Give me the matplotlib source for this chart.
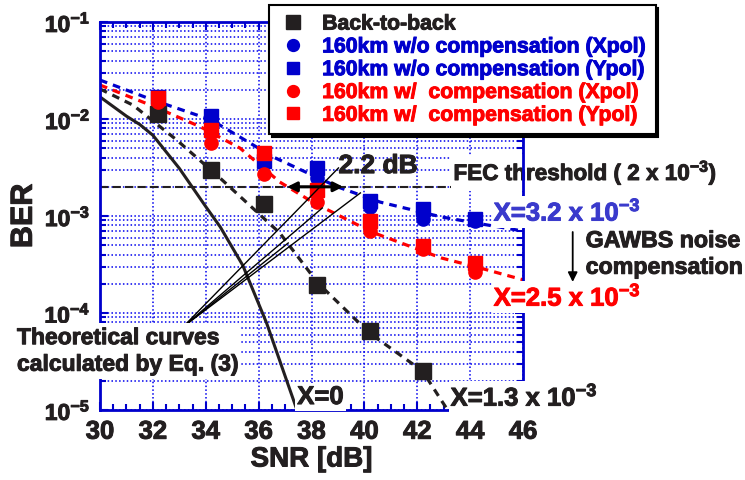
import matplotlib.pyplot as plt
import matplotlib.patheffects as pe
from matplotlib.text import Text
from matplotlib.lines import Line2D
from matplotlib.ticker import LogLocator, MultipleLocator, NullFormatter

plt.rcParams['font.family'] = 'Liberation Sans'
plt.rcParams['font.weight'] = 'bold'
plt.rcParams['axes.labelweight'] = 'bold'
plt.rcParams['mathtext.fontset'] = 'custom'
plt.rcParams['mathtext.rm'] = 'Liberation Sans:bold'
plt.rcParams['mathtext.bf'] = 'Liberation Sans:bold'
plt.rcParams['mathtext.it'] = 'Liberation Sans:bold'
plt.rcParams['mathtext.default'] = 'rm'

BLACK = '#231f20'
BLUE = '#0000cc'
RED = '#ff0000'
GRID = '#0000ee'

# measured points
snr = [32.2, 34.2, 36.2, 38.2, 40.2, 42.2, 44.2]
btb_snr = [32.2, 34.2, 36.2, 38.2, 40.2, 42.2]
btb_ber = [1.13e-2, 2.98e-3, 1.33e-3, 1.95e-4, 6.5e-5, 2.5e-5]
wo_x = [1.57e-2, 8.7e-3, 3.5e-3, 2.47e-3, 1.24e-3, 9.3e-4, 8.9e-4]
wo_y = [1.68e-2, 1.07e-2, 3.69e-3, 3.13e-3, 1.43e-3, 1.18e-3, 9.3e-4]
w_x = [1.5e-2, 5.66e-3, 2.71e-3, 1.39e-3, 7.0e-4, 4.57e-4, 2.65e-4]
w_y = [1.64e-2, 7.7e-3, 4.46e-3, 1.85e-3, 8.9e-4, 4.9e-4, 3.27e-4]

# theoretical curves
blue_th_snr = [30, 32, 34.2, 35.3, 36.55, 39.0, 40.6, 42.9, 44.4, 46]
blue_th_ber = [2.52e-2, 1.57e-2, 9.8e-3, 6.5e-3, 4.06e-3, 1.99e-3, 1.39e-3, 9.8e-4, 8.3e-4, 7.0e-4]
red_th_snr = [30, 32, 33.8, 35.3, 36.8, 38.1, 40.3, 42.9, 44.4, 46]
red_th_ber = [2.24e-2, 1.36e-2, 8.3e-3, 5.0e-3, 2.24e-3, 1.36e-3, 6.8e-4, 3.7e-4, 2.9e-4, 2.2e-4]
black_th_snr = [30, 31.25, 32.9, 34.5, 36.8, 38.24, 40.2, 42.2, 42.9, 43.15]
black_th_ber = [2.04e-2, 1.39e-2, 6.08e-3, 2.52e-3, 6.68e-4, 2.04e-4, 6.2e-5, 2.52e-5, 1.27e-5, 1.0e-5]
zero_th_snr = [30, 31.0, 31.5, 32.0, 33.0, 34.0, 34.55, 35.4, 36.3, 37.45]
zero_th_ber = [1.69e-2, 1.07e-2, 8.8e-3, 6.8e-3, 3.1e-3, 1.25e-3, 7.7e-4, 3.1e-4, 7.9e-5, 1.0e-5]

fec = 2e-3
gap_start, gap_end = 37.08, 39.2

# pointer lines from the "Theoretical curves" note
note_anchor = (33.14, 7.18e-5)
note_targets = [(39.02, 3.13e-3), (39.85, 1.73e-3), (38.41, 1.21e-3), (37.12, 5.27e-4)]

x_ticks = [30, 32, 34, 36, 38, 40, 42, 44, 46]
y_ticks = [1e-5, 1e-4, 1e-3, 1e-2, 1e-1]
y_tick_labels = [r'$10^{-5}$', r'$10^{-4}$', r'$10^{-3}$', r'$10^{-2}$', r'$10^{-1}$']

legend_labels = ['Back-to-back',
                 '160km w/o compensation (Xpol)',
                 '160km w/o compensation (Ypol)',
                 '160km w/  compensation (Xpol)',
                 '160km w/  compensation (Ypol)']

fig = plt.figure(figsize=(7.45, 4.8), dpi=100)
ax = fig.add_axes([100 / 745, 1 - 410 / 480, 423 / 745, 388 / 480])
ax.set_yscale('log')

dash = (0, (2.4, 1.9))
ax.plot(blue_th_snr, blue_th_ber, color=BLUE, lw=2.3, ls=dash, zorder=2)
ax.plot(red_th_snr, red_th_ber, color=RED, lw=2.3, ls=dash, zorder=2)
ax.plot(black_th_snr, black_th_ber, color=BLACK, lw=2.3, ls=dash, zorder=2)
ax.plot(zero_th_snr, zero_th_ber, color=BLACK, lw=2.2, zorder=2)
ax.axhline(fec, color=BLACK, lw=1.5, ls=(0, (4, 2)), zorder=2)

ax.plot(btb_snr, btb_ber, 's', color=BLACK, ms=11, zorder=3)
ax.plot(snr, wo_x, 'o', color=BLUE, ms=9.5, zorder=3)
ax.plot(snr, wo_y, 's', color=BLUE, ms=9.5, zorder=3)
ax.plot(snr, w_x, 'o', color=RED, ms=9.5, zorder=3)
ax.plot(snr, w_y, 's', color=RED, ms=9.5, zorder=3)

ax.annotate('', xy=(gap_start, fec), xytext=(gap_end, fec),
            arrowprops=dict(arrowstyle='<|-|>', color='black', lw=2.2,
                            mutation_scale=14, shrinkA=0, shrinkB=0), zorder=4)
for tx, ty in note_targets:
    ax.plot([note_anchor[0], tx], [note_anchor[1], ty], color='black', lw=1.0, zorder=4)

ax.set_xticks(x_ticks)
ax.set_xticklabels([str(v) for v in x_ticks], fontsize=18.5, color=BLACK, fontweight='bold')
ax.xaxis.set_minor_locator(MultipleLocator(0.5))
ax.set_yticks(y_ticks)
ax.set_yticklabels(y_tick_labels, fontsize=16.5, color=BLACK)
ax.yaxis.set_minor_locator(LogLocator(base=10, subs=range(2, 10), numticks=20))
ax.yaxis.set_minor_formatter(NullFormatter())
ax.set_xlim(30, 46)
ax.set_ylim(1e-5, 1e-1)

ax.grid(True, which='major', axis='x', color=GRID, ls=(0, (1, 1.5)), lw=1.1)
ax.grid(True, which='both', axis='y', color=GRID, ls=(0, (1, 1.5)), lw=1.1)
ax.tick_params(which='both', direction='in', top=True, right=True, color=BLUE, width=1.5)
ax.tick_params(which='major', length=6)
ax.tick_params(which='minor', length=4.5)
ax.tick_params(axis='x', pad=7)
ax.tick_params(axis='y', pad=7)
for s in ax.spines.values():
    s.set_color(BLUE)
    s.set_linewidth(2.0)

ax.set_xlabel('SNR [dB]', fontsize=20, color=BLACK, fontweight='bold', labelpad=2)
ax.set_ylabel('BER', fontsize=22, color=BLACK, fontweight='bold', labelpad=4)

white = dict(facecolor='white', edgecolor='none', pad=1.5)
ax.text(39.02, 3.27e-3, '2.2 dB', fontsize=19, color=BLACK, fontweight='bold',
        ha='left', va='center', zorder=5)
ax.text(43.37, 2.77e-3, 'FEC threshold ( 2 x 10$^{-3}$)', fontsize=16.2, color=BLACK,
        fontweight='bold', ha='left', va='center', bbox=white, zorder=2.3, clip_on=False)
ax.text(44.89, 1.1e-3, 'X=3.2 x 10$^{-3}$', fontsize=18.5, color='#3a3acc', fontweight='bold',
        ha='left', va='center', bbox=white, zorder=5, clip_on=False)
ax.text(44.89, 1.46e-4, 'X=2.5 x 10$^{-3}$', fontsize=18.5, color=RED, fontweight='bold',
        ha='left', va='center', bbox=white, zorder=5, clip_on=False)
ax.text(43.26, 1.36e-5, 'X=1.3 x 10$^{-3}$', fontsize=18.5, color=BLACK, fontweight='bold',
        ha='left', va='center', bbox=white, zorder=5, clip_on=False)
ax.text(37.46, 1.36e-5, 'X=0', fontsize=18.5, color=BLACK, fontweight='bold',
        ha='left', va='center', bbox=white, zorder=5, clip_on=False)
ax.text(48.37, 4.06e-4, 'GAWBS noise\ncompensation', fontsize=16.7, color=BLACK,
        fontweight='bold', ha='left', va='center', linespacing=1.2, clip_on=False)
ax.annotate('', xy=(47.88, 2.09e-4), xytext=(47.88, 6.84e-4), annotation_clip=False,
            arrowprops=dict(arrowstyle='-|>', color='black', lw=1.3,
                            mutation_scale=14, shrinkA=0, shrinkB=0))
ax.text(26.86, 4.06e-5, 'Theoretical curves\ncalculated by Eq. (3)', fontsize=16.5,
        color=BLACK, fontweight='bold', ha='left', va='center', linespacing=1.2,
        bbox=dict(facecolor='white', edgecolor='none', pad=2), zorder=5, clip_on=False)

handles = [Line2D([], [], ls='none', marker='s', color=BLACK, ms=10.5),
           Line2D([], [], ls='none', marker='o', color=BLUE, ms=9.5),
           Line2D([], [], ls='none', marker='s', color=BLUE, ms=9.5),
           Line2D([], [], ls='none', marker='o', color=RED, ms=9.5),
           Line2D([], [], ls='none', marker='s', color=RED, ms=9.5)]
leg = fig.legend(handles, legend_labels, loc='upper left',
                 bbox_to_anchor=(269 / 745, 1 - 5 / 480), bbox_transform=fig.transFigure,
                 prop={'family': 'Liberation Sans', 'weight': 'bold', 'size': 15.3},
                 labelcolor=[BLACK, BLUE, BLUE, RED, RED],
                 frameon=True, fancybox=False, edgecolor='black', framealpha=1,
                 shadow={'color': 'black', 'alpha': 1},
                 borderpad=0.45, labelspacing=0.18, handlelength=1.4,
                 handletextpad=0.65, borderaxespad=0, markerscale=0.9)
leg.get_frame().set_linewidth(1.5)

# the original lettering is heavier than plain bold; thicken it a little
for t in fig.findobj(Text):
    if t.get_text():
        t.set_path_effects([pe.withStroke(linewidth=0.7, foreground=t.get_color())])

fig.savefig('out.png', dpi=100)
